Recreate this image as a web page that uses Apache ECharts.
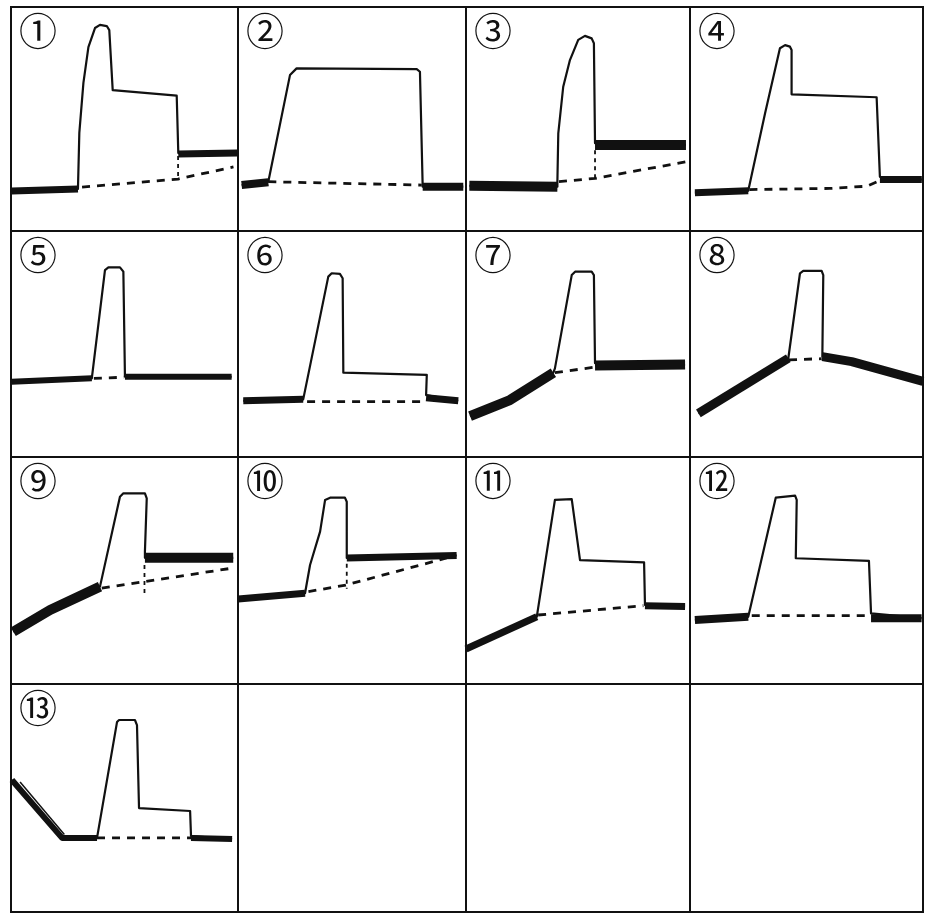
<!DOCTYPE html>
<html><head><meta charset="utf-8">
<script src="https://cdn.jsdelivr.net/npm/echarts@6/dist/echarts.min.js"></script>
<style>html,body{margin:0;padding:0;background:#fff}#c{width:929px;height:916px}</style>
</head><body><div id="c"></div><script>
// Panel labels
const panelLabels = ['①','②','③','④','⑤','⑥','⑦','⑧','⑨','⑩','⑪','⑫','⑬'];

// Each panel: x = time (0-100 %), y = level (0-100 %)
const p1_trace = [[0.4,17.9],[29.5,18.8],[29.6,18.8],[30.1,43.8],[31.9,66.1],[34.1,82.1],[37.0,90.6],[39.2,92.0],[42.2,91.5],[43.3,89.7],[44.8,62.9],[73.0,60.4],[73.7,34.8],[99.6,34.8]];
const p1_thick = [[[0.4,17.9],[29.5,18.8]],[[73.7,34.4],[99.6,34.8]]];
const p1_dash  = [[[31.3,19.6],[73.6,23.2],[98.0,28.6]]];
const p1_vdash = [[[73.6,33.5],[73.6,23.2]]];

const p2_trace = [[1.6,20.5],[13.3,22.0],[22.8,69.6],[25.7,72.6],[78.4,72.3],[79.8,71.1],[81.0,19.8],[98.8,19.8]];
const p2_thick = [[[1.6,20.5],[13.3,21.8]],[[81.0,19.8],[98.8,19.8]]];
const p2_dash  = [[[13.3,22.0],[80.6,20.5]]];
const p2_vdash = [];

const p3_trace = [[1.5,20.2],[40.8,19.8],[40.8,22.0],[41.2,43.6],[43.4,64.4],[46.4,76.3],[50.1,85.3],[53.1,87.1],[56.1,86.0],[57.1,83.8],[57.6,39.2],[98.2,38.4]];
const p3_thick = [[[1.5,20.2],[40.8,19.8]],[[57.6,38.4],[98.2,38.4]]];
const p3_dash  = [[[41.5,22.0],[57.6,23.5],[98.2,30.9]]];
const p3_vdash = [[[57.6,36.0],[57.6,23.5]]];

const p4_trace = [[2.1,17.1],[25.0,18.0],[32.2,52.5],[38.6,81.6],[40.8,83.0],[42.9,82.3],[43.6,80.8],[43.6,61.0],[80.1,59.7],[81.5,24.2],[99.5,23.0]];
const p4_thick = [[[2.1,17.1],[25.0,18.0]],[[81.5,23.0],[99.5,23.0]]];
const p4_dash  = [[[25.5,18.5],[60.0,19.0],[76.0,20.0],[81.5,22.5]]];
const p4_vdash = [];

const p5_trace = [[0.3,33.3],[35.6,34.8],[41.4,82.7],[42.9,83.9],[48.0,83.9],[49.5,82.0],[50.2,35.5],[97.2,35.5]];
const p5_thick = [[[0.3,33.3],[35.6,34.8]],[[50.2,35.5],[97.2,35.5]]];
const p5_dash  = [[[36.5,34.8],[49.8,35.3]]];
const p5_vdash = [];

const p6_trace = [[2.3,24.9],[28.6,25.5],[39.6,79.8],[41.1,81.3],[44.7,81.0],[45.9,79.1],[46.2,37.3],[82.8,36.3],[82.5,27.4],[96.6,24.9]];
const p6_thick = [[[2.3,24.9],[28.6,25.5]],[[82.5,26.2],[96.6,24.9]]];
const p6_dash  = [[[30.3,24.5],[81.6,24.5]]];
const p6_vdash = [];

const p7_trace = [[1.8,18.1],[19.6,25.2],[39.0,37.3],[39.7,39.2],[47.2,80.5],[48.7,82.0],[56.1,82.0],[57.1,80.5],[57.6,41.5],[97.8,40.7]];
const p7_thick = [[[1.8,18.1],[19.6,25.2],[39.0,37.3]],[[57.6,40.5],[97.8,40.9]]];
const p7_dash  = [[[39.7,37.3],[57.6,39.8]]];
const p7_vdash = [];

const p8_trace = [[3.6,19.3],[42.2,43.7],[47.2,81.3],[48.6,82.4],[56.5,82.4],[57.2,80.5],[56.8,44.4],[69.4,42.2],[100,33.5]];
const p8_thick = [[[3.6,19.3],[42.2,43.7]],[[56.8,44.4],[69.4,42.2],[100,33.5]]];
const p8_dash  = [[[42.5,43.0],[56.5,43.5]]];
const p8_vdash = [];

const p9_trace = [[1.0,23.0],[17.2,32.6],[39.2,42.9],[48.0,82.5],[49.5,84.0],[59.0,84.0],[59.8,81.8],[59.0,58.3],[59.0,55.6],[97.9,55.6]];
const p9_thick = [[[1.0,23.0],[17.2,32.6],[39.2,42.9]],[[59.0,55.6],[97.9,55.6]]];
const p9_dash  = [[[40.0,42.2],[58.8,45.1],[97.2,51.0]]];
const p9_vdash = [[[58.8,52.4],[58.8,38.8]]];

const p10_trace = [[0.1,37.4],[29.4,40.0],[31.6,52.4],[36.0,67.1],[38.2,81.1],[40.4,82.1],[46.9,82.1],[47.7,80.3],[47.7,55.5],[95.9,56.6]];
const p10_thick = [[[0.1,37.4],[29.4,40.0]],[[47.7,55.5],[95.9,56.6]]];
const p10_dash  = [[[30.9,40.7],[47.3,43.6],[91.5,55.5]]];
const p10_vdash = [[[47.7,53.0],[47.7,42.0]]];

const p11_trace = [[0,15.4],[31.6,29.6],[31.8,30.4],[39.7,81.1],[47.2,81.4],[50.9,54.6],[79.5,53.6],[79.9,34.8],[97.8,34.1]];
const p11_thick = [[[0,15.4],[31.6,29.6]],[[79.9,34.5],[97.8,34.1]]];
const p11_dash  = [[[32.2,30.4],[79.2,34.5]]];
const p11_vdash = [];

const p12_trace = [[2.1,28.2],[25.0,29.6],[36.8,82.1],[45.1,83.0],[45.8,81.1],[45.4,55.4],[76.8,54.2],[77.7,31.1],[99.4,29.0]];
const p12_thick = [[[2.1,28.2],[25.0,29.6]],[[77.7,29.0],[99.4,29.0]]];
const p12_dash  = [[[26.5,30.1],[77.3,30.1]]];
const p12_vdash = [];

const p13_trace = [[0.4,57.9],[22.5,32.5],[37.9,32.5],[46.7,83.3],[47.6,84.2],[54.6,84.2],[55.5,82.0],[56.4,45.6],[78.9,44.3],[79.3,33.3],[97.4,32.0]];
const p13_thick = [[[0.4,57.9],[22.5,32.5],[37.9,32.5]],[[79.3,32.5],[97.4,32.0]]];
const p13_dash  = [[[37.9,32.5],[79.3,32.5]]];
const p13_vdash = [];
const p13_thin  = [[[4.0,57.0],[23.5,34.0]]];

const panels = [
  {trace:p1_trace, thick:p1_thick, dash:p1_dash, vdash:p1_vdash},
  {trace:p2_trace, thick:p2_thick, dash:p2_dash, vdash:p2_vdash},
  {trace:p3_trace, thick:p3_thick, dash:p3_dash, vdash:p3_vdash},
  {trace:p4_trace, thick:p4_thick, dash:p4_dash, vdash:p4_vdash},
  {trace:p5_trace, thick:p5_thick, dash:p5_dash, vdash:p5_vdash},
  {trace:p6_trace, thick:p6_thick, dash:p6_dash, vdash:p6_vdash},
  {trace:p7_trace, thick:p7_thick, dash:p7_dash, vdash:p7_vdash},
  {trace:p8_trace, thick:p8_thick, dash:p8_dash, vdash:p8_vdash},
  {trace:p9_trace, thick:p9_thick, dash:p9_dash, vdash:p9_vdash},
  {trace:p10_trace, thick:p10_thick, dash:p10_dash, vdash:p10_vdash},
  {trace:p11_trace, thick:p11_thick, dash:p11_dash, vdash:p11_vdash},
  {trace:p12_trace, thick:p12_thick, dash:p12_dash, vdash:p12_vdash},
  {trace:p13_trace, thick:p13_thick, dash:p13_dash, vdash:p13_vdash, extra:p13_thin}
];

// Layout / style (kept apart from data)
const colLeft = [11,238,466,690], colW = [227,228,224,233];
const rowTop = [7,231,457,684], rowH = [224,226,227,228];
const thickW = [7,8,10,7,6,7,10,9,10,7,7,8,6];

const grids = [], xAxes = [], yAxes = [], series = [], titles = [];
for (let i = 0; i < 16; i++) {
  const r = Math.floor(i/4), c = i % 4;
  grids.push({left: colLeft[c], top: rowTop[r], width: colW[c], height: rowH[r],
    show: true, borderColor: '#111', borderWidth: 2, backgroundColor: 'transparent'});
  xAxes.push({type:'value', gridIndex:i, min:0, max:100, show:false});
  yAxes.push({type:'value', gridIndex:i, min:0, max:100, show:false});
}
const base = {type:'line', symbol:'none', silent:true, animation:false};
panels.forEach((p, i) => {
  const r = Math.floor(i/4), c = i % 4;
  titles.push({text: panelLabels[i], left: colLeft[c] + 8, top: rowTop[r] + 5, padding: 0,
    textStyle: {fontFamily: 'Noto Sans CJK JP', fontSize: 38, lineHeight: 38, fontWeight: 'normal', color: '#111'}});
  series.push(Object.assign({}, base, {xAxisIndex:i, yAxisIndex:i, data:p.trace,
    lineStyle:{color:'#111', width:2.2, join:'round'}}));
  p.thick.forEach(seg => series.push(Object.assign({}, base, {xAxisIndex:i, yAxisIndex:i, data:seg,
    lineStyle:{color:'#111', width:thickW[i], cap:'butt', join:'round'}})));
  p.dash.forEach(seg => series.push(Object.assign({}, base, {xAxisIndex:i, yAxisIndex:i, data:seg,
    lineStyle:{color:'#111', width:2.8, type:[8,7]}})));
  p.vdash.forEach(seg => series.push(Object.assign({}, base, {xAxisIndex:i, yAxisIndex:i, data:seg,
    lineStyle:{color:'#111', width:1.8, type:[4,4]}})));
  (p.extra || []).forEach(seg => series.push(Object.assign({}, base, {xAxisIndex:i, yAxisIndex:i, data:seg,
    lineStyle:{color:'#111', width:1.5}})));
});

const chart = echarts.init(document.getElementById('c'));
chart.setOption({backgroundColor:'#fff', animation:false, title:titles, grid:grids,
  xAxis:xAxes, yAxis:yAxes, series:series});
</script></body></html>
